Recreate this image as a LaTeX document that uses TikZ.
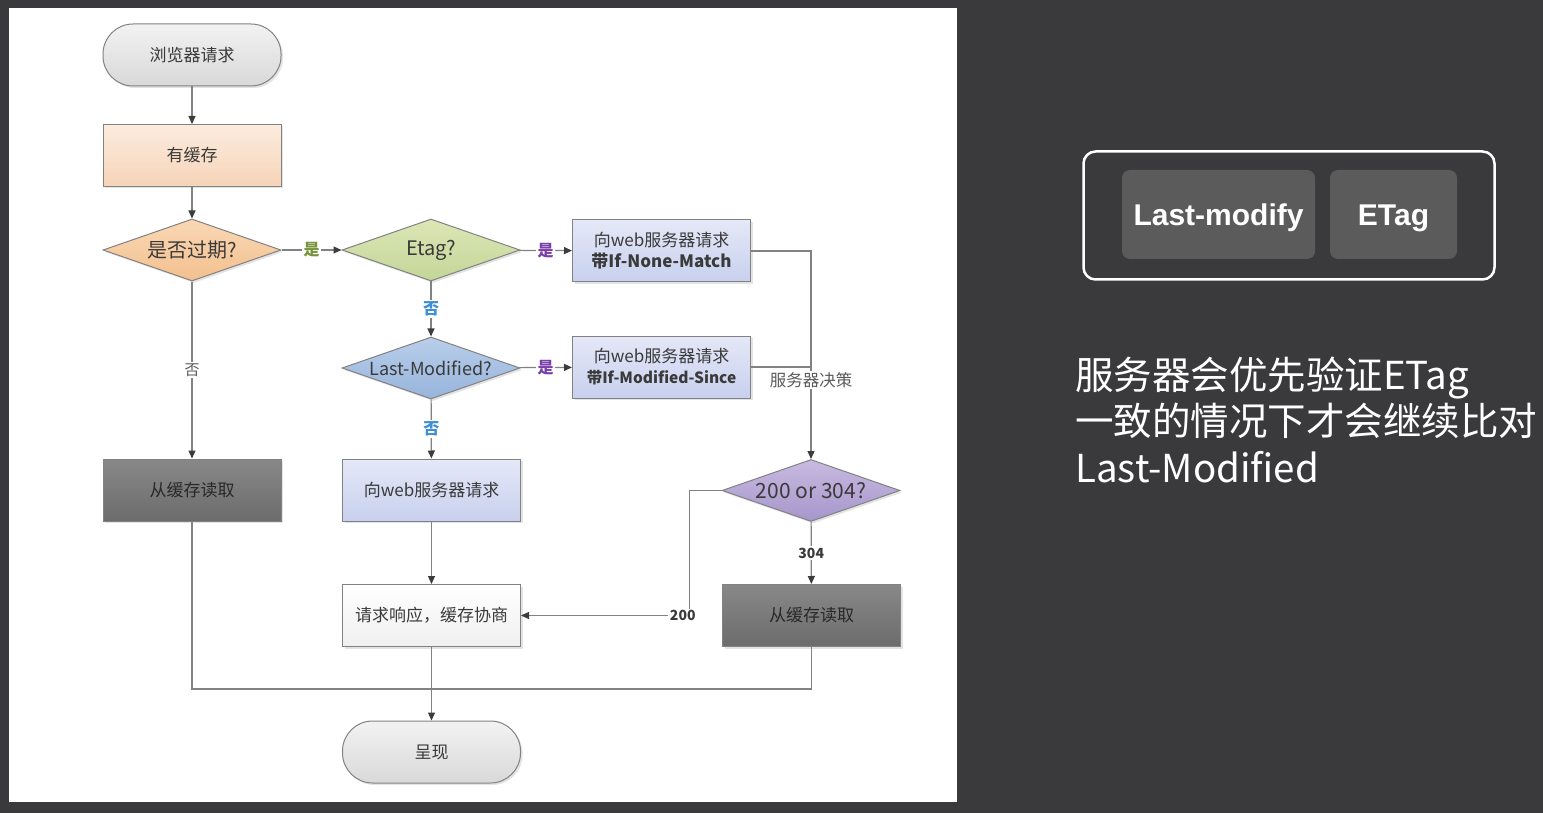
\documentclass[tikz,border=0pt]{standalone}
\usepackage{fontspec}
\setmainfont{Noto Sans CJK SC}
\newfontfamily\hv{Liberation Sans}
\usetikzlibrary{shapes.geometric,arrows.meta,shadows}
\definecolor{bgc}{HTML}{3A3A3C}
\definecolor{lineC}{HTML}{828282}
\definecolor{arrC}{HTML}{3C3C3C}
\definecolor{txtC}{HTML}{3A3A3A}
\definecolor{innerC}{HTML}{5B5B5B}
\definecolor{yesG}{HTML}{77933C}
\definecolor{yesP}{HTML}{7B3FA8}
\definecolor{noB}{HTML}{3D8FD6}
\definecolor{noG}{HTML}{5A5A5A}
\tikzset{
  base/.style={draw=lineC, line width=1pt, text=txtC, font=\fontsize{17}{21}\selectfont,
    inner sep=0pt, minimum width=178pt, minimum height=62pt, align=center,
    drop shadow={opacity=0.22, shadow xshift=2pt, shadow yshift=-2pt}},
  box/.style={base, rectangle},
  pill/.style={base, rectangle, rounded corners=30pt},
  dia/.style={base, diamond, aspect=2.87},
  line/.style={draw=lineC, line width=1.2pt},
  conn/.style={line, -{Triangle[length=8pt,width=7pt,color=arrC]}},
  lab/.style={fill=white, inner sep=1.5pt, font=\bfseries\fontsize{16}{19}\selectfont},
  tag/.style={fill=innerC, rounded corners=8pt, minimum height=89pt, text=white,
    text height=21.5pt, text depth=0pt,
    font=\hv\bfseries\fontsize{30}{36}\selectfont},
  side/.style={anchor=base west, text=white, inner sep=0pt, font=\fontsize{38.5}{46}\selectfont}
}
\begin{document}
\begin{tikzpicture}[x=1pt,y=-1pt]
\useasboundingbox (0,0) rectangle (1543,813);
\fill[bgc] (0,0) rectangle (1543,813);
\fill[white] (9,8) rectangle (957,802);

% nodes
\node[pill, top color=gray!10, bottom color=gray!30] (start) at (192,55) {浏览器请求};
\node[box, top color={rgb,255:red,252;green,236;blue,222}, bottom color={rgb,255:red,246;green,212;blue,184}] (cache) at (192,155.5) {有缓存};
\node[dia, top color={rgb,255:red,250;green,216;blue,182}, bottom color={rgb,255:red,243;green,192;blue,142}, font=\fontsize{20}{24}\selectfont] (exp) at (192,250) {是否过期?};
\node[dia, top color={rgb,255:red,220;green,230;blue,182}, bottom color={rgb,255:red,196;green,214;blue,152}, font=\fontsize{20}{24}\selectfont] (etag) at (431,250) {Etag?};
\node[box, top color={rgb,255:red,228;green,232;blue,247}, bottom color={rgb,255:red,200;green,208;blue,238}] (nm) at (661.5,251) {向web服务器请求\\\textbf{带If-None-Match}};
\node[dia, top color={rgb,255:red,184;green,206;blue,234}, bottom color={rgb,255:red,152;green,180;blue,220}, font=\fontsize{18}{22}\selectfont] (lm) at (431,368) {Last-Modified?};
\node[box, top color={rgb,255:red,228;green,232;blue,247}, bottom color={rgb,255:red,200;green,208;blue,238}] (ms) at (661.5,367) {向web服务器请求\\{\bfseries\fontsize{15.5}{19}\selectfont 带If-Modified-Since}};
\node[box, top color={rgb,255:red,136;green,136;blue,136}, bottom color={rgb,255:red,108;green,108;blue,108}, text={rgb,255:red,40;green,40;blue,40}] (cacheL) at (192,490) {从缓存读取};
\node[box, top color={rgb,255:red,228;green,232;blue,247}, bottom color={rgb,255:red,200;green,208;blue,238}] (req) at (431.5,490) {向web服务器请求};
\node[dia, top color={rgb,255:red,200;green,186;blue,224}, bottom color={rgb,255:red,166;green,150;blue,204}, font=\fontsize{21}{25}\selectfont] (dec) at (811,490.5) {200 or 304?};
\node[box, top color=white, bottom color=gray!12] (resp) at (431.5,615.5) {请求响应，缓存协商};
\node[box, top color={rgb,255:red,136;green,136;blue,136}, bottom color={rgb,255:red,108;green,108;blue,108}, text={rgb,255:red,40;green,40;blue,40}] (cacheR) at (811.5,615.5) {从缓存读取};
\node[pill, top color=gray!10, bottom color=gray!30] (present) at (431.5,752) {呈现};
\coordinate (join) at (431.5,689);

% connectors
\draw[conn] (start) -- (cache);
\draw[conn] (cache) -- (exp);
\draw[conn] (exp) -- node[lab, text=yesG] {是} (etag);
\draw[conn] (etag) -- node[lab, text=yesP] {是} (nm);
\draw[conn] (etag) -- node[lab, text=noB] {否} (lm);
\draw[conn] (lm) -- node[lab, text=yesP] {是} (ms);
\draw[conn] (lm) -- node[lab, text=noB] {否} (req);
\draw[conn] (exp) -- node[lab, text=noG, font=\fontsize{15}{18}\selectfont] {否} (cacheL);
\draw[conn] (nm.east) -| node[lab, text=noG, pos=0.81, font=\fontsize{16.5}{19}\selectfont] {服务器决策} (dec.north);
\draw[line] (ms.east) -- (ms.east -| dec.north);
\draw[conn] (dec) -- node[lab, text=txtC, font=\bfseries\fontsize{14}{17}\selectfont] {304} (cacheR);
\draw[conn] (dec.west) -- ++(-32,0) |- node[lab, text=txtC, pos=0.52, font=\bfseries\fontsize{14}{17}\selectfont] {200} (resp.east);
\draw[conn] (req) -- (resp);
\draw[conn] (resp) -- (present);
\draw[line] (cacheL.south) |- (join);
\draw[line] (cacheR.south) |- (join);

% right panel
\node[draw=white, line width=2.5pt, rounded corners=12pt, minimum width=411pt, minimum height=128pt] (frame) at (1289,215.5) {};
\node[tag, minimum width=193pt] (lmod) at (1218.5,214.5) {Last-modify};
\node[tag, minimum width=127pt] (et) at (1393.5,214.5) {ETag};
\node[side] (t1) at (1075,389) {服务器会优先验证ETag};
\node[side] (t2) at (1075,435.5) {一致的情况下才会继续比对};
\node[side] (t3) at (1075,482) {Last-Modified};
\end{tikzpicture}
\end{document}
